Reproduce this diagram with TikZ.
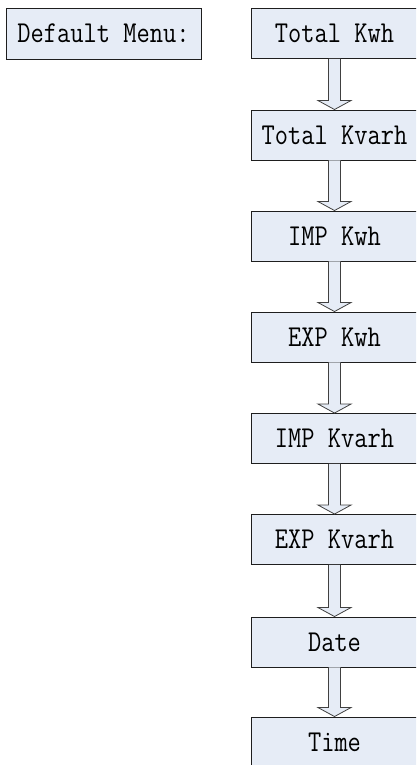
\documentclass[tikz,border=0pt]{standalone}
\usetikzlibrary{calc}
\definecolor{boxfill}{RGB}{230,236,246}
\definecolor{edge}{RGB}{30,30,30}
\newcommand{\tallt}[1]{\scalebox{1}[1.18]{#1}}
\begin{document}
\begin{tikzpicture}[x=1pt,y=1pt,
  menubox/.style={draw=edge,line width=0.9pt,fill=boxfill,minimum height=50pt,inner sep=0pt,
    font=\fontsize{25.7}{30}\ttfamily},
  flowbox/.style={menubox,minimum width=167pt},
  blockarrow/.style={draw=edge!85,line width=0.8pt,fill=boxfill,line join=miter}]
\useasboundingbox (0,0) rectangle (416,765);
\clip (0,0) rectangle (416,765);
\node[menubox,minimum width=195pt,minimum height=51pt] (dm) at (103.5,731.5) {\tallt{Default Menu:}};
\node[flowbox] (b1) at (334.5,731.5) {\tallt{Total Kwh}};
\node[flowbox] (b2) at (334.5,630) {\tallt{Total Kvarh}};
\node[flowbox] (b3) at (334.5,529) {\tallt{IMP Kwh}};
\node[flowbox] (b4) at (334.5,428) {\tallt{EXP Kwh}};
\node[flowbox] (b5) at (334.5,326.5) {\tallt{IMP Kvarh}};
\node[flowbox] (b6) at (334.5,225.5) {\tallt{EXP Kvarh}};
\node[flowbox] (b7) at (334.5,123) {\tallt{Date}};
\node[flowbox] (b8) at (334.5,23) {\tallt{Time}};
\foreach \a/\b in {b1/b2,b2/b3,b3/b4,b4/b5,b5/b6,b6/b7,b7/b8}{
  \draw[blockarrow] ($(\a.south)+(-6,0)$) -- ($(\b.north)+(-6,9)$) -- ($(\b.north)+(-16.5,9)$)
    -- (\b.north) -- ($(\b.north)+(16.5,9)$) -- ($(\b.north)+(6,9)$) -- ($(\a.south)+(6,0)$);
}
\end{tikzpicture}
\end{document}
